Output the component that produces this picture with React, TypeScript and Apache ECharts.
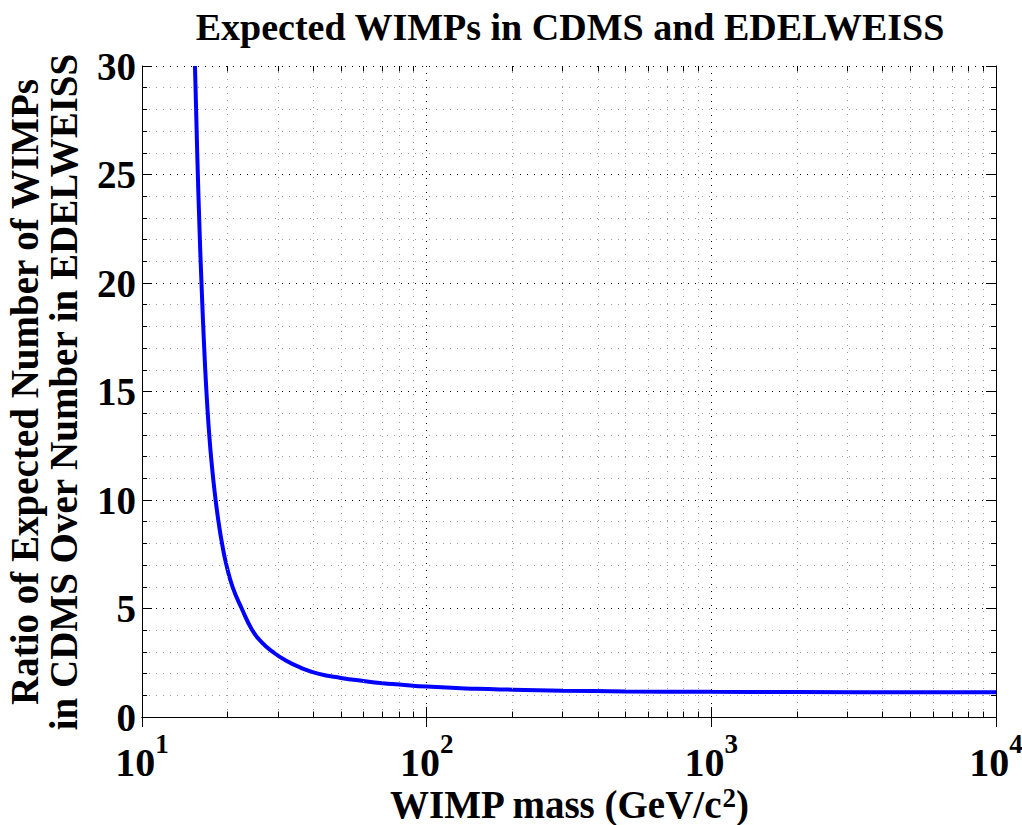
import React, { useEffect, useRef } from "react";
import * as echarts from "echarts";

const massGeV = [15.35, 15.42, 15.49, 15.56, 15.63, 15.71, 15.79, 15.88, 15.97, 16.07, 16.18, 16.29, 16.41, 16.54, 16.68, 16.84, 17.02, 17.23, 17.48, 17.78, 18.14, 18.57, 19.1, 19.8, 20.8, 22.4, 24.4, 26.3, 28.8, 32.0, 36.0, 41.5, 50, 60, 70, 80, 100, 150, 200, 300, 500, 1000, 2000, 5000, 10000];
const ratio = [30, 29, 28, 27, 26, 25, 24, 23, 22, 21, 20, 19, 18, 17, 16, 15, 14, 13, 12, 11, 10, 9, 8, 7, 6, 5, 4, 3.45, 3.0, 2.6, 2.28, 2.0, 1.8, 1.66, 1.56, 1.5, 1.4, 1.3, 1.26, 1.215, 1.18, 1.16, 1.15, 1.14, 1.14];
const minorX = [20, 30, 40, 50, 60, 70, 80, 90, 200, 300, 400, 500, 600, 700, 800, 900, 2000, 3000, 4000, 5000, 6000, 7000, 8000, 9000];
const yTicks = [0, 5, 10, 15, 20, 25, 30];

const titleText = "Expected WIMPs in CDMS and EDELWEISS";
const yNameLines = ["Ratio of Expected Number of WIMPs", "in CDMS Over Number in EDELWEISS"];
const FONT = '"Liberation Serif", "Times New Roman", serif';

export default function App() {
  const ref = useRef<HTMLDivElement>(null);
  useEffect(() => {
    if (!ref.current) return;
    const chart = echarts.init(ref.current, undefined, { renderer: "svg" });
    const yMin = yTicks[0];
    const yMax = yTicks[yTicks.length - 1];
    const minorGrid = minorX.map((v) => ({ xAxis: v }));
    const minorTicks: any[] = [];
    minorX.forEach((v) => {
      minorTicks.push([{ coord: [v, yMin] }, { coord: [v, yMin + 0.25] }]);
      minorTicks.push([{ coord: [v, yMax - 0.25] }, { coord: [v, yMax] }]);
    });
    const tickRich = {
      b: { fontSize: 40, fontWeight: "bold", fontFamily: FONT, color: "#000", lineHeight: 52, verticalAlign: "bottom" },
      s: { fontSize: 27, fontWeight: "bold", fontFamily: FONT, color: "#000", lineHeight: 27, verticalAlign: "top" },
    };
    const nameRich = {
      b: { fontSize: 39, fontWeight: "bold", fontFamily: FONT, color: "#000", lineHeight: 40, verticalAlign: "bottom" },
      s: { fontSize: 27, fontWeight: "bold", fontFamily: FONT, color: "#000", lineHeight: 20, verticalAlign: "top" },
    };
    chart.setOption({
      animation: false,
      backgroundColor: "#fff",
      grid: { left: 142, right: 26, top: 66, bottom: 108, show: false, containLabel: false, outerBoundsMode: "none" },
      xAxis: [
        {
          type: "log",
          logBase: 10,
          min: 10,
          max: 10000,
          axisLine: { show: true, lineStyle: { color: "#000", width: 1 } },
          axisTick: { show: true, inside: true, length: 10, lineStyle: { color: "#000" } },
          minorTick: { show: false },
          axisLabel: {
            margin: 13,
            formatter: (v: number) => `{b|10}{s|${Math.round(Math.log10(v))}}`,
            rich: tickRich,
          },
          splitLine: { show: true, lineStyle: { color: "#000", type: [1, 6], width: 1 } },
          name: "{b|WIMP mass (GeV/c}{s|2}{b|)}",
          nameLocation: "middle",
          nameGap: 67,
          nameMoveOverlap: false,
          nameTextStyle: { rich: nameRich },
        },
        {
          type: "log",
          logBase: 10,
          min: 10,
          max: 10000,
          position: "top",
          axisLine: { show: true, lineStyle: { color: "#000", width: 1 } },
          axisTick: { show: true, inside: true, length: 10, lineStyle: { color: "#000" } },
          axisLabel: { show: false },
          splitLine: { show: false },
        },
      ],
      yAxis: [
        {
          type: "value",
          min: yMin,
          max: yMax,
          interval: 5,
          axisLine: { show: true, lineStyle: { color: "#000", width: 1 } },
          axisTick: { show: true, inside: true, length: 10, lineStyle: { color: "#000" } },
          minorTick: { show: true, splitNumber: 5, length: 5, lineStyle: { color: "#000" } },
          axisLabel: { margin: 6, fontSize: 39, fontWeight: "bold", fontFamily: FONT, color: "#000" },
          splitLine: { show: true, lineStyle: { color: "#000", type: [1, 6], width: 1 } },
          minorSplitLine: { show: true, lineStyle: { color: "#999", type: [1, 6], width: 1 } },
        },
        {
          type: "value",
          min: yMin,
          max: yMax,
          interval: 5,
          position: "right",
          axisLine: { show: true, lineStyle: { color: "#000", width: 1 } },
          axisTick: { show: true, inside: true, length: 10, lineStyle: { color: "#000" } },
          minorTick: { show: true, splitNumber: 5, length: 5, lineStyle: { color: "#000" } },
          axisLabel: { show: false },
          splitLine: { show: false },
        },
      ],
      graphic: [
        {
          type: "text",
          x: 570,
          y: 8,
          style: {
            text: titleText,
            font: `bold 38px ${FONT}`,
            fill: "#000",
            textAlign: "center",
            textVerticalAlign: "top",
          },
        },
        {
          type: "text",
          x: 44,
          y: 392,
          rotation: Math.PI / 2,
          style: {
            text: yNameLines.join("\n"),
            font: `bold 39px ${FONT}`,
            fill: "#000",
            textAlign: "center",
            textVerticalAlign: "middle",
            lineHeight: 39,
          },
        },
      ],
      series: [
        {
          type: "line",
          data: [],
          z: 1,
          silent: true,
          markLine: {
            silent: true,
            symbol: "none",
            label: { show: false },
            animation: false,
            data: [
              ...minorGrid.map((d) => ({ ...d, lineStyle: { color: "#999", type: [1, 6], width: 1 } })),
              ...minorTicks.map((d) => [
                { ...d[0], lineStyle: { color: "#000", type: "solid", width: 1 } },
                d[1],
              ]),
            ],
          },
        },
        {
          type: "line",
          z: 3,
          data: massGeV.map((m, i) => [m, ratio[i]]),
          showSymbol: false,
          smooth: 0.5,
          lineStyle: { color: "#0000ff", width: 4 },
          clip: true,
        },
      ],
    });
    return () => chart.dispose();
  }, []);
  return <div ref={ref} style={{ position: "fixed", left: 0, top: 0, width: 1022, height: 825 }} />;
}
